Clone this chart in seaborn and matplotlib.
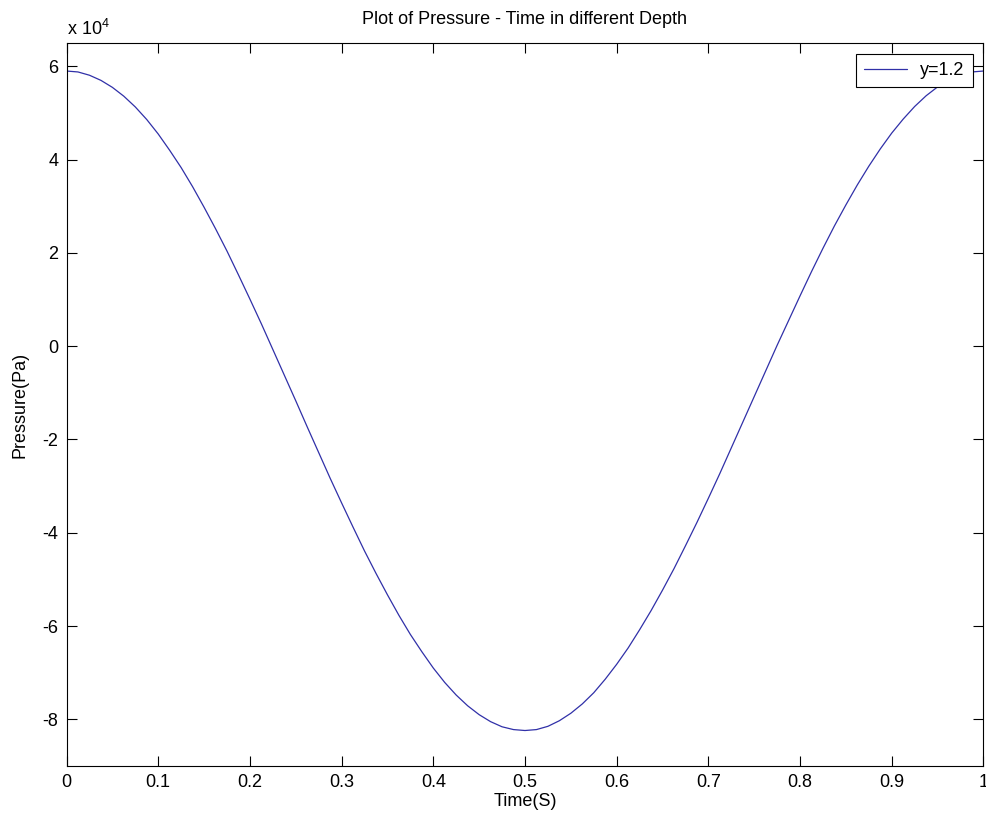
import pandas as pd
import matplotlib.pyplot as plt
import matplotlib.ticker as mticker
import seaborn as sns

# values (pressure in Pa at depth y=1.2), every 0.0125 s
time = [i * 0.0125 for i in range(81)]
pressure = [59000, 58800, 58100, 57000, 55500, 53600, 51300, 48600, 45500, 42000,
            38300, 34200, 29800, 25200, 20400, 15300, 10100, 4800, -700, -6200,
            -11700, -17300, -22800, -28300, -33600, -38800, -43900, -48700, -53300, -57700,
            -61800, -65500, -69000, -72100, -74800, -77100, -79000, -80500, -81600, -82200,
            -82400,
            -82200, -81500, -80300, -78700, -76700, -74300, -71400, -68200, -64700, -60800,
            -56700, -52300, -47700, -42800, -37800, -32600, -27300, -21800, -16300, -10800,
            -5300, 200, 5500, 10800, 16000, 21000, 25800, 30300, 34600, 38600,
            42300, 45700, 48700, 51400, 53700, 55600, 57100, 58200, 58800, 59000]
depth_label = "y=1.2"

df = pd.DataFrame({"Time": time, "Pressure": pressure})

sns.set_style("ticks")
plt.rcParams['font.family'] = ['Liberation Sans', 'DejaVu Sans']
plt.rcParams['mathtext.default'] = 'regular'
plt.rcParams['text.color'] = 'black'
plt.rcParams['axes.labelcolor'] = 'black'
plt.rcParams['xtick.color'] = 'black'
plt.rcParams['ytick.color'] = 'black'

fig = plt.figure(figsize=(9.87, 8.23), dpi=100)
ax = fig.add_axes([0.0674, 0.0693, 0.929, 0.8784])

sns.lineplot(data=df, x="Time", y="Pressure", ax=ax, color='#3030a8',
             linewidth=0.9, label=depth_label)

ax.set_xlim(0, 1)
ax.set_ylim(-90000, 65000)
ax.set_xticks([i / 10 for i in range(11)])
ax.xaxis.set_major_formatter(mticker.FuncFormatter(lambda v, p: f"{v:g}"))
ax.set_yticks(range(-80000, 60001, 20000))
ax.yaxis.set_major_formatter(mticker.FuncFormatter(lambda v, p: f"{v / 1e4:g}"))

ax.tick_params(direction='in', length=7, width=0.8, top=True, right=True,
               labelsize=13, pad=6)
for s in ax.spines.values():
    s.set_visible(True)
    s.set_color('black')
    s.set_linewidth(0.8)

ax.set_title('Plot of Pressure - Time in different Depth', fontsize=13, pad=14)
ax.set_xlabel('Time(S)', fontsize=13, labelpad=1)
ax.set_ylabel('Pressure(Pa)', fontsize=13, labelpad=10)
ax.text(0.0, 1.005, 'x 10$^4$', transform=ax.transAxes, fontsize=13,
        ha='left', va='bottom')

leg = ax.legend(loc='upper right', fontsize=13, frameon=True, fancybox=False,
                borderaxespad=0.6, handlelength=2.4, handletextpad=0.7,
                borderpad=0.45)
leg.get_frame().set_edgecolor('black')
leg.get_frame().set_linewidth(0.8)
leg.get_frame().set_alpha(1)

fig.savefig('out.png', dpi=100, facecolor='white')
